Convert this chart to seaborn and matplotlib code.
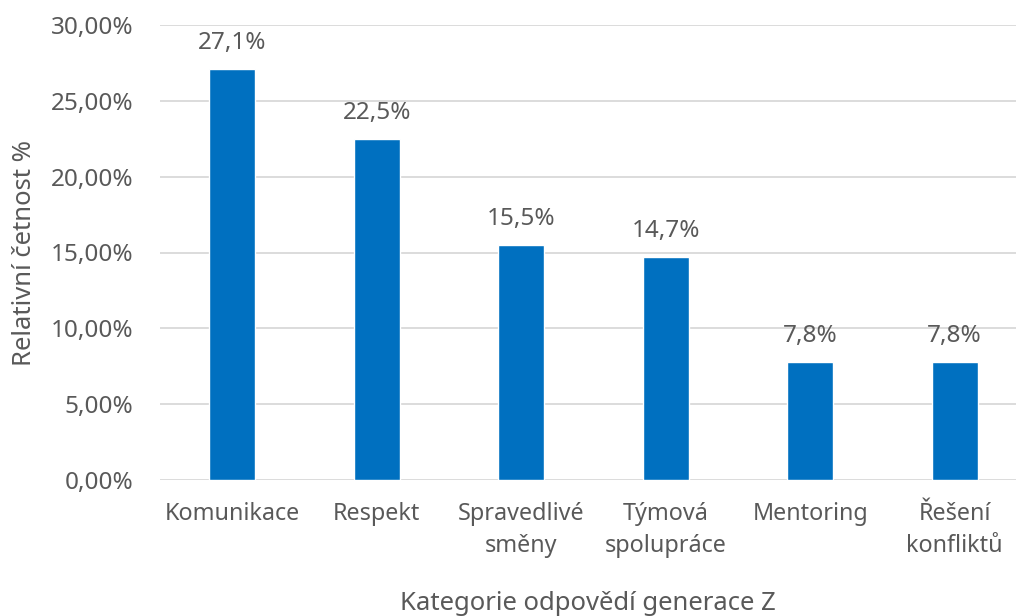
import matplotlib
matplotlib.use("Agg")
import matplotlib.pyplot as plt
import seaborn as sns
import pandas as pd
from matplotlib.ticker import FuncFormatter

categories = ["Komunikace", "Respekt", "Spravedlivé\nsměny", "Týmová\nspolupráce",
              "Mentoring", "Řešení\nkonfliktů"]
values = [27.1, 22.5, 15.5, 14.7, 7.8, 7.8]
yticks = [0, 5, 10, 15, 20, 25, 30]

df = pd.DataFrame({"kategorie": categories, "hodnota": values})

sns.set_theme(style="white")
plt.rcParams['font.family'] = ['Noto Sans', 'DejaVu Sans']
grey = "#595959"

fig = plt.figure(figsize=(10.16, 6.16), dpi=100)
ax = fig.add_axes([160 / 1016, 136 / 616, 856 / 1016, 455 / 616])

sns.barplot(data=df, x="kategorie", y="hodnota", color="#0070C0",
            width=0.318, saturation=1, ax=ax, zorder=3)

# popisky hodnot nad sloupci
for i, v in enumerate(values):
    ax.annotate(f"{v:.1f}%".replace(".", ","), (i, v), xytext=(0, 10),
                textcoords="offset points", ha="center", va="bottom",
                fontsize=17.5, color=grey)

ax.set_ylim(0, 30)
ax.set_xlim(-0.5, 5.424)
ax.set_yticks(yticks)
ax.yaxis.set_major_formatter(FuncFormatter(lambda v, p: f"{v:.2f}%".replace(".", ",")))
ax.grid(axis="y", color="#d9d9d9", linewidth=1.3, zorder=0)
for s in ax.spines.values():
    s.set_visible(False)
ax.tick_params(axis="y", length=0, labelsize=17.5, labelcolor=grey, pad=19)
ax.tick_params(axis="x", length=0, labelsize=16.8, labelcolor=grey, pad=16)
for lbl in ax.get_xticklabels():
    lbl.set_linespacing(1.45)

ax.set_xlabel("Kategorie odpovědí generace Z", fontsize=18.5, color=grey)
ax.set_ylabel("Relativní četnost %", fontsize=18.5, color=grey)
ax.xaxis.set_label_coords(0.5, (616 - 603 - 136) / 455)
ax.xaxis.label.set_va("center")
ax.yaxis.set_label_coords((25 - 160) / 856, 0.5)
ax.yaxis.label.set_va("center")

fig.savefig("out.png", dpi=100)
